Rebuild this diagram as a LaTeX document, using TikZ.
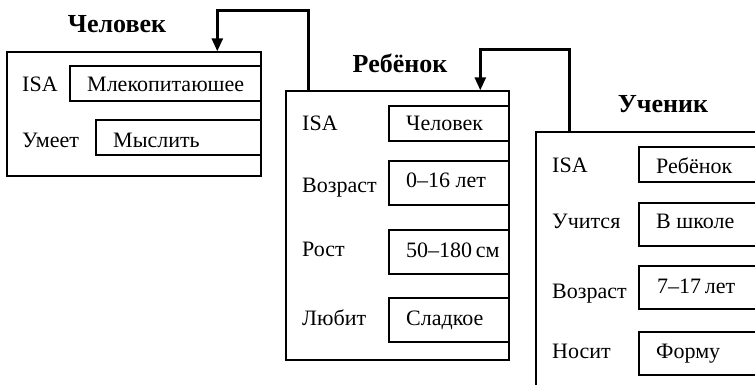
\documentclass[tikz,border=0pt]{standalone}
\usepackage{fontspec}
\setmainfont{Liberation Serif}
\usetikzlibrary{arrows.meta,positioning}

\begin{document}
\begin{tikzpicture}[x=1pt,y=-1pt,every node/.style={font=\fontsize{22}{26}\selectfont},
  framebox/.style={draw,line width=1.4pt,inner sep=0pt},
  slot/.style 2 args={draw,line width=1.3pt,inner sep=0pt,minimum width=#1,minimum height=#2},
  attr/.style={anchor=base west,inner sep=0pt},
  val/.style={anchor=base west,inner sep=0pt},
  title/.style={anchor=base,inner sep=0pt,font=\fontsize{26}{30}\selectfont\bfseries},
  link/.style={line width=2.6pt,-{Triangle[length=13pt,width=11pt]}}]
\useasboundingbox (0,0) rectangle (755,385);
\clip (0,0) rectangle (755,385);

% Человек
\node[title] (tchel) at (117,33) {Человек};
\node[framebox,minimum width=254,minimum height=124] (chel) at (134,114) {};
\node[attr] (chelisa) at (22,92) {ISA};
\node[slot={191}{35}] (chelisaS) at (165.5,83.5) {};
\node[val] (chelisaV) at (87,92) {Млекопитаюшее};
\node[attr] (chelum) at (22,147) {Умеет};
\node[slot={165}{35}] (chelumS) at (178.5,137.5) {};
\node[val] (chelumV) at (113,147) {Мыслить};

% Ребёнок
\node[title] (treb) at (400,73) {Ребёнок};
\node[framebox,minimum width=223,minimum height=269] (reb) at (397.5,225.5) {};
\node[attr] (rebisa) at (302,131) {ISA};
\node[slot={120}{35}] (rebisaS) at (449,123.5) {};
\node[val] (rebisaV) at (406,131) {Человек};
\node[attr] (rebage) at (302,193) {Возраст};
\node[slot={120}{44}] (rebageS) at (449,183) {};
\node[val] (rebageV) at (406,187) {0–16 лет};
\node[attr] (rebh) at (302,256) {Рост};
\node[slot={120}{44}] (rebhS) at (449,252) {};
\node[val] (rebhV) at (406,257) {50–180\,см};
\node[attr] (reblike) at (302,325) {Любит};
\node[slot={120}{44}] (reblikeS) at (449,320) {};
\node[val] (reblikeV) at (406,325) {Сладкое};

% Ученик
\node[title] (tuch) at (663,113) {Ученик};
\node[framebox,minimum width=240,minimum height=280] (uch) at (656,272) {};
\node[attr] (uchisa) at (552,172) {ISA};
\node[slot={130}{35}] (uchisaS) at (704,164.5) {};
\node[val] (uchisaV) at (656,174) {Ребёнок};
\node[attr] (uchstud) at (552,228) {Учится};
\node[slot={130}{43}] (uchstudS) at (704,224.5) {};
\node[val] (uchstudV) at (656,228) {В школе};
\node[attr] (uchage) at (552,298) {Возраст};
\node[slot={130}{43}] (uchageS) at (704,287.5) {};
\node[val] (uchageV) at (657,293) {7–17\,лет};
\node[attr] (uchwear) at (552,358) {Носит};
\node[slot={130}{43}] (uchwearS) at (704,353.5) {};
\node[val] (uchwearV) at (656,358) {Форму};

% ISA links
\draw[link] ([xshift=23pt]reb.north west) -- ++(0,-80) -| ([xshift=211pt]chel.north west);
\draw[link] ([xshift=34pt]uch.north west) -- ++(0,-82) -| ([xshift=195pt]reb.north west);
\end{tikzpicture}
\end{document}
